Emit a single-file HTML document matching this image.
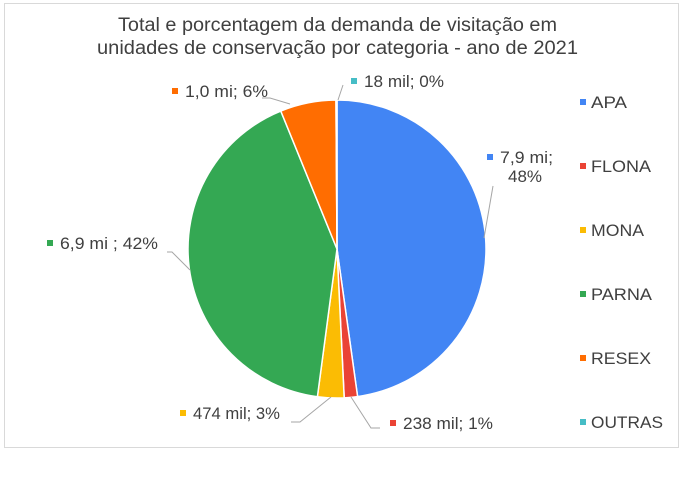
<!DOCTYPE html>
<html><head><meta charset="utf-8">
<style>
html,body{margin:0;padding:0;background:#fff;width:690px;height:477px;overflow:hidden}
svg text{font-family:"Liberation Sans",Arial,sans-serif;fill:#404040}
</style></head>
<body>
<svg width="690" height="477" xmlns="http://www.w3.org/2000/svg">
<rect x="4.5" y="3.5" width="674" height="444" fill="#fff" stroke="#d9d9d9"/>
<text x="118" y="31" font-size="19" textLength="439" lengthAdjust="spacingAndGlyphs">Total e porcentagem da demanda de visitação em</text>
<text x="97" y="54" font-size="19" textLength="481" lengthAdjust="spacingAndGlyphs">unidades de conservação por categoria - ano de 2021</text>
<g id="slices"></g>
<g id="leaders" stroke="#a6a6a6" fill="none" stroke-width="1"></g>
<g id="labels"></g>
<g id="legend"></g>
</svg>
<script>
const categories=["APA","FLONA","MONA","PARNA","RESEX","OUTRAS"];
const values=[7.9,0.238,0.474,6.9,1.0,0.018];
const valueLabels=["7,9 mi;","238 mil; 1%","474 mil; 3%","6,9 mi ; 42%","1,0 mi; 6%","18 mil; 0%"];
const colors=["#4285f4","#ea4335","#fbbc04","#34a853","#ff6d01","#46bdc6"];
const NS="http://www.w3.org/2000/svg";
const cx=337,cy=249,r=149;
function mk(tag,attrs,parent){const e=document.createElementNS(NS,tag);for(const k in attrs)e.setAttribute(k,attrs[k]);parent.appendChild(e);return e;}
const total=values.reduce((a,b)=>a+b,0);
function pt(a,rr){return [cx+rr*Math.sin(a),cy-rr*Math.cos(a)];}
const gS=document.getElementById('slices'),gL=document.getElementById('labels'),gLd=document.getElementById('leaders'),gG=document.getElementById('legend');
let a0=0;
values.forEach((v,i)=>{
  const a1=a0+v/total*2*Math.PI;
  const p0=pt(a0,r),p1=pt(a1,r);
  const large=(a1-a0)>Math.PI?1:0;
  const p=mk('path',{d:`M${cx},${cy} L${p0[0]},${p0[1]} A${r},${r} 0 ${large} 1 ${p1[0]},${p1[1]} Z`,fill:colors[i],stroke:'#fff','stroke-width':1.5},gS);
  
  
  a0=a1;
});
// label layout: [markerX, baselineY, textWidth]
const lab=[[490,163,53],[393,429,90],[183,419,87],[50,249,98],[175,97,83],[354,87,80]];
lab.forEach((L,i)=>{
  const s=mk('rect',{x:L[0]-3,y:L[1]-9,width:6,height:6,fill:colors[i]},gL);
  
  
  const t=mk('text',{x:L[0]+10,y:L[1],'font-size':17,textLength:L[2],lengthAdjust:'spacingAndGlyphs'},gL);
  t.textContent=valueLabels[i];
  
  
  if(i===0){const t2=mk('text',{x:508,y:182,'font-size':17},gL);t2.textContent=Math.round(values[0]/total*100)+'%';
    
    }
});
const leaderPaths=["M484,238 L493,186","M351,397 L371,428 L380,428","M331,397 L300,422 L291,422","M190,270 L172,252 L167,252","M290,104 L270,98 L262,98","M338,100 L343,85"];
leaderPaths.forEach((d,i)=>{const l=mk('path',{d:d},gLd);
  
  });
const legW=[36,60,53,61,60,72];
categories.forEach((c,i)=>{
  const y=108+i*64;
  const s=mk('rect',{x:580,y:y-9,width:6,height:6,fill:colors[i]},gG);
  
  
  const t=mk('text',{x:591,y:y,'font-size':17,textLength:legW[i],lengthAdjust:'spacingAndGlyphs'},gG);
  t.textContent=c;
  
  
});
</script>
</body></html>
